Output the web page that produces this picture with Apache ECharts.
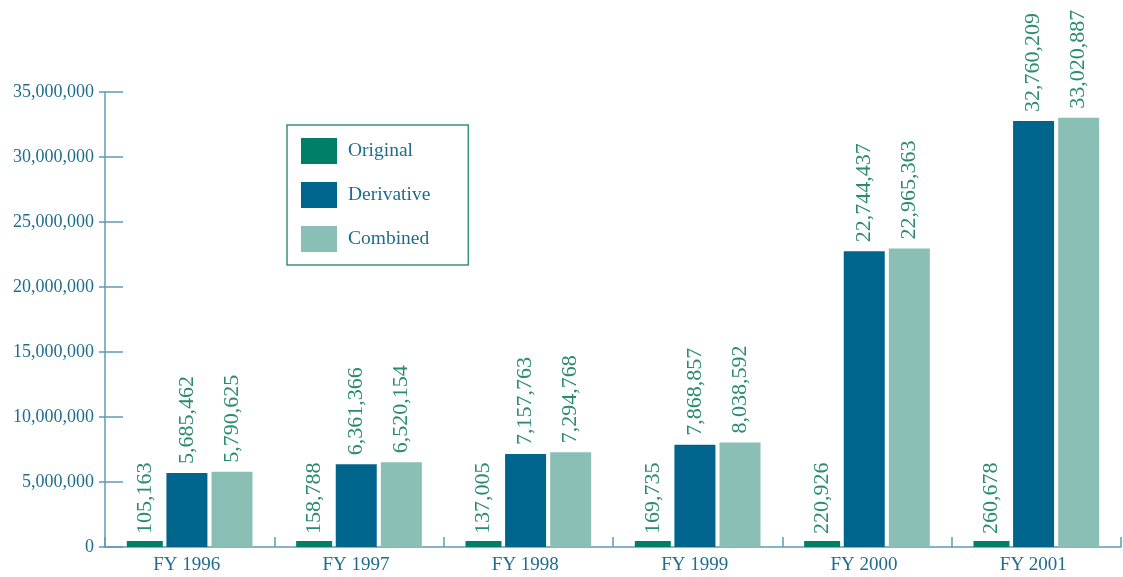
<!DOCTYPE html>
<html>
<head>
<meta charset="utf-8">
<script src="https://cdn.jsdelivr.net/npm/echarts@6/dist/echarts.min.js"></script>
<style>
html,body{margin:0;padding:0;background:#fff;}
#chart{width:1123px;height:577px;}
</style>
</head>
<body>
<div id="chart"></div>
<script>
const categories = ['FY 1996', 'FY 1997', 'FY 1998', 'FY 1999', 'FY 2000', 'FY 2001'];
const original = [105163, 158788, 137005, 169735, 220926, 260678];
const derivative = [5685462, 6361366, 7157763, 7868857, 22744437, 32760209];
const combined = [5790625, 6520154, 7294768, 8038592, 22965363, 33020887];
const yTicks = { min: 0, max: 35000000, interval: 5000000 };

const FONT = '"Liberation Serif", "DejaVu Serif", serif';
const AXIS_COLOR = '#5e9cb6';
const TEXT_COLOR = '#1f6d8c';
const LABEL_COLOR = '#2b8a73';

const chart = echarts.init(document.getElementById('chart'));

function valueLabel(dist) {
  return {
    show: true,
    position: 'top',
    rotate: 90,
    align: 'left',
    verticalAlign: 'middle',
    distance: dist,
    color: LABEL_COLOR,
    fontFamily: FONT,
    fontSize: 22,
    formatter: p => p.value.toLocaleString('en-US')
  };
}

chart.setOption({
  animation: false,
  backgroundColor: '#ffffff',
  grid: { left: 105, right: 2, top: 92, bottom: 30 },
  legend: {
    orient: 'vertical',
    left: 287,
    top: 125,
    padding: [13, 38, 13, 14],
    itemWidth: 36,
    itemHeight: 26,
    itemGap: 18,
    borderColor: '#3a917e',
    borderWidth: 1.5,
    icon: 'rect',
    textStyle: { color: TEXT_COLOR, fontFamily: FONT, fontSize: 19.5, padding: [6, 0, 0, 6] },
    data: ['Original', 'Derivative', 'Combined']
  },
  xAxis: {
    type: 'category',
    data: categories,
    axisLine: { lineStyle: { color: AXIS_COLOR, width: 1.5 } },
    axisTick: { show: true, inside: true, length: 10, lineStyle: { color: AXIS_COLOR, width: 1.5 } },
    axisLabel: { color: TEXT_COLOR, fontFamily: FONT, fontSize: 19, margin: 9, padding: [0, 6, 0, 0] },
    splitLine: { show: false }
  },
  yAxis: [
    {
      type: 'value',
      min: yTicks.min, max: yTicks.max, interval: yTicks.interval,
      axisLine: { show: true, lineStyle: { color: AXIS_COLOR, width: 1.5 } },
      axisTick: { show: true, length: 6, lineStyle: { color: AXIS_COLOR, width: 1.5 } },
      axisLabel: {
        color: TEXT_COLOR, fontFamily: FONT, fontSize: 18, margin: 11,
        formatter: v => v.toLocaleString('en-US')
      },
      splitLine: { show: false }
    },
    {
      type: 'value',
      position: 'left',
      offset: 0,
      min: yTicks.min, max: yTicks.max, interval: yTicks.interval,
      axisLine: { show: false },
      axisTick: { show: true, inside: true, length: 18, lineStyle: { color: AXIS_COLOR, width: 1.5 } },
      axisLabel: { show: false },
      splitLine: { show: false }
    }
  ],
  series: [
    {
      name: 'Original', type: 'bar', data: original, yAxisIndex: 0,
      barWidth: 36, barGap: '11%', barMinHeight: 6,
      itemStyle: { color: '#007f68' },
      label: valueLabel(7)
    },
    {
      name: 'Derivative', type: 'bar', data: derivative, yAxisIndex: 0,
      barWidth: 41, barGap: '10%',
      itemStyle: { color: '#00658c' },
      label: valueLabel(9)
    },
    {
      name: 'Combined', type: 'bar', data: combined, yAxisIndex: 0,
      barWidth: 41, barGap: '10%',
      itemStyle: { color: '#89bfb4' },
      label: valueLabel(9)
    }
  ]
});
</script>
</body>
</html>
